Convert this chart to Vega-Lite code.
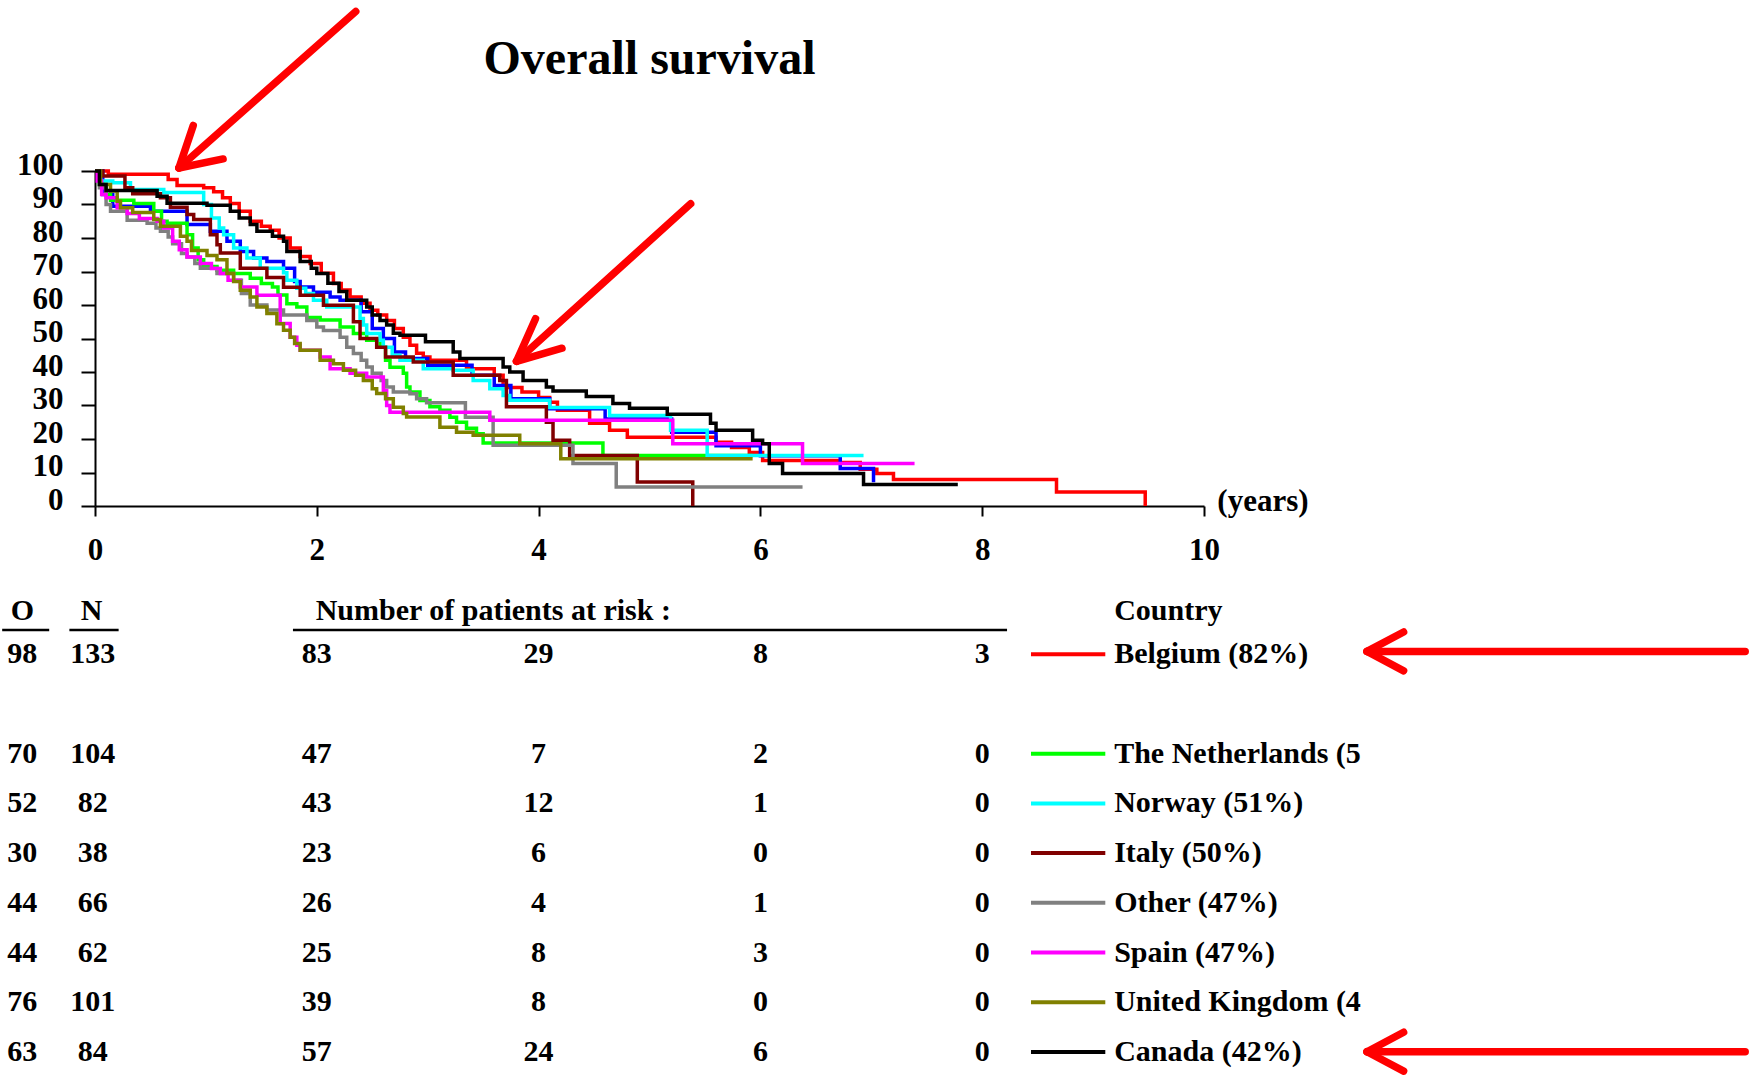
{
"$schema": "https://vega.github.io/schema/vega-lite/v6.json",
"width": 1109, "height": 335,
"padding": {"left": 95, "top": 171, "right": 550, "bottom": 572},
"autosize": "none",
"background": "white",
"config": {"view": {"stroke": null}, "font": "Liberation Serif",
  "text": {"font": "Liberation Serif", "fontWeight": "bold", "fontSize": 30, "color": "black", "baseline": "middle"},
  "axis": {"labelFont": "Liberation Serif", "labelFontWeight": "bold", "labelFontSize": 31, "labelColor": "black", "domainColor": "black", "domainWidth": 2, "tickColor": "black", "tickWidth": 2, "grid": false, "labelOverlap": false, "labelFlush": false}},
"datasets": {
"km": [
{"country":"Belgium","t":0,"s":100},{"country":"Belgium","t":0.12,"s":99},{"country":"Belgium","t":0.66,"s":97.5},{"country":"Belgium","t":0.74,"s":95.7},{"country":"Belgium","t":0.98,"s":95},{"country":"Belgium","t":1.07,"s":93.8},{"country":"Belgium","t":1.15,"s":92},{"country":"Belgium","t":1.22,"s":90.3},{"country":"Belgium","t":1.3,"s":88},{"country":"Belgium","t":1.4,"s":85},{"country":"Belgium","t":1.5,"s":83.5},{"country":"Belgium","t":1.58,"s":82.3},{"country":"Belgium","t":1.66,"s":80},{"country":"Belgium","t":1.76,"s":77},{"country":"Belgium","t":1.85,"s":74.5},{"country":"Belgium","t":1.94,"s":72.4},{"country":"Belgium","t":2.04,"s":69.5},{"country":"Belgium","t":2.15,"s":66.4},{"country":"Belgium","t":2.22,"s":64.5},{"country":"Belgium","t":2.3,"s":62.4},{"country":"Belgium","t":2.4,"s":60.5},{"country":"Belgium","t":2.48,"s":58.4},{"country":"Belgium","t":2.55,"s":57},{"country":"Belgium","t":2.63,"s":55.4},{"country":"Belgium","t":2.7,"s":53},{"country":"Belgium","t":2.78,"s":50.4},{"country":"Belgium","t":2.84,"s":48},{"country":"Belgium","t":2.9,"s":45.6},{"country":"Belgium","t":2.96,"s":44.5},{"country":"Belgium","t":3.02,"s":43.5},{"country":"Belgium","t":3.35,"s":41},{"country":"Belgium","t":3.6,"s":39},{"country":"Belgium","t":3.68,"s":35.4},{"country":"Belgium","t":3.85,"s":34},{"country":"Belgium","t":4.0,"s":32.4},{"country":"Belgium","t":4.1,"s":31},{"country":"Belgium","t":4.17,"s":28.6},{"country":"Belgium","t":4.46,"s":24.7},{"country":"Belgium","t":4.64,"s":22.6},{"country":"Belgium","t":4.8,"s":20.5},{"country":"Belgium","t":5.6,"s":19},{"country":"Belgium","t":5.74,"s":17.5},{"country":"Belgium","t":5.9,"s":16},{"country":"Belgium","t":6.02,"s":13.6},{"country":"Belgium","t":6.72,"s":13},{"country":"Belgium","t":6.9,"s":11},{"country":"Belgium","t":7.05,"s":9.7},{"country":"Belgium","t":7.2,"s":7.9},{"country":"Belgium","t":8.67,"s":4.2},{"country":"Belgium","t":9.47,"s":0},
{"country":"Unnamed","t":0,"s":100},{"country":"Unnamed","t":0.07,"s":93},{"country":"Unnamed","t":0.16,"s":89.5},{"country":"Unnamed","t":0.5,"s":88},{"country":"Unnamed","t":0.83,"s":84},{"country":"Unnamed","t":1.04,"s":82},{"country":"Unnamed","t":1.19,"s":79},{"country":"Unnamed","t":1.31,"s":76},{"country":"Unnamed","t":1.43,"s":74},{"country":"Unnamed","t":1.55,"s":73},{"country":"Unnamed","t":1.7,"s":71},{"country":"Unnamed","t":1.8,"s":67},{"country":"Unnamed","t":1.85,"s":65.4},{"country":"Unnamed","t":1.97,"s":63.8},{"country":"Unnamed","t":2.12,"s":62.4},{"country":"Unnamed","t":2.21,"s":61.4},{"country":"Unnamed","t":2.4,"s":58},{"country":"Unnamed","t":2.5,"s":53},{"country":"Unnamed","t":2.6,"s":50},{"country":"Unnamed","t":2.7,"s":46},{"country":"Unnamed","t":2.8,"s":44},{"country":"Unnamed","t":3.0,"s":42},{"country":"Unnamed","t":3.4,"s":39},{"country":"Unnamed","t":3.6,"s":36},{"country":"Unnamed","t":3.75,"s":32},{"country":"Unnamed","t":4.1,"s":29},{"country":"Unnamed","t":4.6,"s":26},{"country":"Unnamed","t":5.2,"s":22},{"country":"Unnamed","t":5.6,"s":18},{"country":"Unnamed","t":6.0,"s":15},{"country":"Unnamed","t":6.72,"s":11.2},{"country":"Unnamed","t":7.02,"s":7.1},
{"country":"The Netherlands","t":0,"s":100},{"country":"The Netherlands","t":0.04,"s":96},{"country":"The Netherlands","t":0.1,"s":93},{"country":"The Netherlands","t":0.14,"s":91.3},{"country":"The Netherlands","t":0.35,"s":90.3},{"country":"The Netherlands","t":0.53,"s":88},{"country":"The Netherlands","t":0.6,"s":85},{"country":"The Netherlands","t":0.65,"s":84.4},{"country":"The Netherlands","t":0.83,"s":81},{"country":"The Netherlands","t":0.88,"s":77},{"country":"The Netherlands","t":0.93,"s":73.5},{"country":"The Netherlands","t":0.98,"s":71.5},{"country":"The Netherlands","t":1.1,"s":70.4},{"country":"The Netherlands","t":1.25,"s":69.4},{"country":"The Netherlands","t":1.4,"s":68},{"country":"The Netherlands","t":1.5,"s":66.4},{"country":"The Netherlands","t":1.6,"s":65.4},{"country":"The Netherlands","t":1.65,"s":63},{"country":"The Netherlands","t":1.73,"s":60.4},{"country":"The Netherlands","t":1.82,"s":59.4},{"country":"The Netherlands","t":1.91,"s":56.3},{"country":"The Netherlands","t":2.03,"s":55.5},{"country":"The Netherlands","t":2.21,"s":53.4},{"country":"The Netherlands","t":2.33,"s":51.5},{"country":"The Netherlands","t":2.45,"s":49.5},{"country":"The Netherlands","t":2.57,"s":47.4},{"country":"The Netherlands","t":2.62,"s":43.5},{"country":"The Netherlands","t":2.66,"s":41.4},{"country":"The Netherlands","t":2.78,"s":39.6},{"country":"The Netherlands","t":2.81,"s":35.5},{"country":"The Netherlands","t":2.84,"s":34},{"country":"The Netherlands","t":2.93,"s":31.5},{"country":"The Netherlands","t":3.02,"s":29.6},{"country":"The Netherlands","t":3.11,"s":28.6},{"country":"The Netherlands","t":3.2,"s":26.5},{"country":"The Netherlands","t":3.26,"s":25},{"country":"The Netherlands","t":3.35,"s":23.2},{"country":"The Netherlands","t":3.44,"s":21.6},{"country":"The Netherlands","t":3.5,"s":18.8},{"country":"The Netherlands","t":4.58,"s":15.1},{"country":"The Netherlands","t":5.93,"s":15.1},
{"country":"Norway","t":0,"s":100},{"country":"Norway","t":0.05,"s":97},{"country":"Norway","t":0.16,"s":96.5},{"country":"Norway","t":0.32,"s":94.5},{"country":"Norway","t":0.62,"s":93.6},{"country":"Norway","t":0.98,"s":90},{"country":"Norway","t":1.05,"s":86},{"country":"Norway","t":1.12,"s":83},{"country":"Norway","t":1.16,"s":81},{"country":"Norway","t":1.25,"s":77},{"country":"Norway","t":1.37,"s":74},{"country":"Norway","t":1.49,"s":71},{"country":"Norway","t":1.7,"s":69.6},{"country":"Norway","t":1.73,"s":67.4},{"country":"Norway","t":1.82,"s":65},{"country":"Norway","t":1.9,"s":63.4},{"country":"Norway","t":1.97,"s":61.4},{"country":"Norway","t":2.09,"s":59.4},{"country":"Norway","t":2.39,"s":56},{"country":"Norway","t":2.42,"s":54},{"country":"Norway","t":2.45,"s":51.5},{"country":"Norway","t":2.57,"s":49.5},{"country":"Norway","t":2.6,"s":47.4},{"country":"Norway","t":2.68,"s":45},{"country":"Norway","t":2.75,"s":43.5},{"country":"Norway","t":2.96,"s":41},{"country":"Norway","t":3.23,"s":40.5},{"country":"Norway","t":3.41,"s":37.5},{"country":"Norway","t":3.56,"s":35},{"country":"Norway","t":3.68,"s":33},{"country":"Norway","t":3.74,"s":31.6},{"country":"Norway","t":4.1,"s":29.4},{"country":"Norway","t":4.64,"s":27},{"country":"Norway","t":5.19,"s":22.6},{"country":"Norway","t":5.52,"s":15.1},{"country":"Norway","t":6.93,"s":15.1},
{"country":"Italy","t":0,"s":100},{"country":"Italy","t":0.07,"s":98.5},{"country":"Italy","t":0.27,"s":95},{"country":"Italy","t":0.34,"s":93.2},{"country":"Italy","t":0.59,"s":92},{"country":"Italy","t":0.68,"s":89.2},{"country":"Italy","t":0.83,"s":87},{"country":"Italy","t":0.89,"s":85.5},{"country":"Italy","t":1.04,"s":81},{"country":"Italy","t":1.1,"s":78},{"country":"Italy","t":1.13,"s":75.5},{"country":"Italy","t":1.31,"s":71},{"country":"Italy","t":1.55,"s":68.2},{"country":"Italy","t":1.7,"s":65.3},{"country":"Italy","t":1.85,"s":62.9},{"country":"Italy","t":2.06,"s":59.9},{"country":"Italy","t":2.33,"s":55},{"country":"Italy","t":2.39,"s":50},{"country":"Italy","t":2.54,"s":47.4},{"country":"Italy","t":2.62,"s":44.5},{"country":"Italy","t":2.87,"s":43},{"country":"Italy","t":3.23,"s":39},{"country":"Italy","t":3.65,"s":37.5},{"country":"Italy","t":3.71,"s":29.6},{"country":"Italy","t":4.07,"s":25},{"country":"Italy","t":4.13,"s":19.6},{"country":"Italy","t":4.28,"s":15.1},{"country":"Italy","t":4.89,"s":7.2},{"country":"Italy","t":5.39,"s":0},
{"country":"Other","t":0,"s":100},{"country":"Other","t":0.04,"s":95},{"country":"Other","t":0.1,"s":90},{"country":"Other","t":0.14,"s":88},{"country":"Other","t":0.29,"s":85.3},{"country":"Other","t":0.47,"s":84.4},{"country":"Other","t":0.55,"s":83},{"country":"Other","t":0.59,"s":82},{"country":"Other","t":0.66,"s":80.3},{"country":"Other","t":0.7,"s":78.3},{"country":"Other","t":0.78,"s":75.4},{"country":"Other","t":0.83,"s":74.3},{"country":"Other","t":0.9,"s":72.4},{"country":"Other","t":0.95,"s":71},{"country":"Other","t":1.1,"s":69.4},{"country":"Other","t":1.25,"s":67.4},{"country":"Other","t":1.32,"s":63.4},{"country":"Other","t":1.4,"s":60},{"country":"Other","t":1.55,"s":58.5},{"country":"Other","t":1.7,"s":57},{"country":"Other","t":1.91,"s":55.4},{"country":"Other","t":2.0,"s":53.4},{"country":"Other","t":2.06,"s":52.4},{"country":"Other","t":2.21,"s":50.4},{"country":"Other","t":2.27,"s":47.4},{"country":"Other","t":2.33,"s":45.5},{"country":"Other","t":2.4,"s":43.5},{"country":"Other","t":2.45,"s":41.5},{"country":"Other","t":2.5,"s":39.6},{"country":"Other","t":2.58,"s":37.5},{"country":"Other","t":2.63,"s":35.5},{"country":"Other","t":2.69,"s":34},{"country":"Other","t":2.84,"s":33.5},{"country":"Other","t":2.9,"s":32},{"country":"Other","t":2.99,"s":30.8},{"country":"Other","t":3.34,"s":26.5},{"country":"Other","t":3.59,"s":18.1},{"country":"Other","t":4.31,"s":12.7},{"country":"Other","t":4.7,"s":5.7},{"country":"Other","t":6.38,"s":5.7},
{"country":"Spain","t":0,"s":100},{"country":"Spain","t":0.02,"s":97},{"country":"Spain","t":0.06,"s":93},{"country":"Spain","t":0.1,"s":92},{"country":"Spain","t":0.2,"s":89},{"country":"Spain","t":0.29,"s":87.3},{"country":"Spain","t":0.4,"s":85.8},{"country":"Spain","t":0.56,"s":85},{"country":"Spain","t":0.62,"s":83},{"country":"Spain","t":0.7,"s":79},{"country":"Spain","t":0.76,"s":76.5},{"country":"Spain","t":0.83,"s":74.3},{"country":"Spain","t":0.95,"s":72.4},{"country":"Spain","t":1.05,"s":70.9},{"country":"Spain","t":1.13,"s":69.4},{"country":"Spain","t":1.2,"s":67.4},{"country":"Spain","t":1.31,"s":65.4},{"country":"Spain","t":1.46,"s":62.9},{"country":"Spain","t":1.67,"s":54.5},{"country":"Spain","t":1.76,"s":50.4},{"country":"Spain","t":1.82,"s":48},{"country":"Spain","t":1.85,"s":46.5},{"country":"Spain","t":2.03,"s":44.5},{"country":"Spain","t":2.12,"s":41},{"country":"Spain","t":2.3,"s":39.6},{"country":"Spain","t":2.45,"s":38.5},{"country":"Spain","t":2.6,"s":34.5},{"country":"Spain","t":2.63,"s":30},{"country":"Spain","t":2.66,"s":28},{"country":"Spain","t":3.56,"s":25.6},{"country":"Spain","t":5.21,"s":18.6},{"country":"Spain","t":6.38,"s":12.7},{"country":"Spain","t":7.39,"s":12.7},
{"country":"United Kingdom","t":0,"s":100},{"country":"United Kingdom","t":0.05,"s":96},{"country":"United Kingdom","t":0.14,"s":94},{"country":"United Kingdom","t":0.2,"s":91},{"country":"United Kingdom","t":0.23,"s":89},{"country":"United Kingdom","t":0.34,"s":87.6},{"country":"United Kingdom","t":0.53,"s":85.5},{"country":"United Kingdom","t":0.59,"s":83.5},{"country":"United Kingdom","t":0.77,"s":80.5},{"country":"United Kingdom","t":0.83,"s":79},{"country":"United Kingdom","t":0.87,"s":76.3},{"country":"United Kingdom","t":1.01,"s":74.8},{"country":"United Kingdom","t":1.1,"s":73.5},{"country":"United Kingdom","t":1.19,"s":69.4},{"country":"United Kingdom","t":1.25,"s":67},{"country":"United Kingdom","t":1.31,"s":64.4},{"country":"United Kingdom","t":1.4,"s":62.4},{"country":"United Kingdom","t":1.46,"s":59.4},{"country":"United Kingdom","t":1.55,"s":57.5},{"country":"United Kingdom","t":1.64,"s":54.4},{"country":"United Kingdom","t":1.7,"s":52.5},{"country":"United Kingdom","t":1.76,"s":50.4},{"country":"United Kingdom","t":1.8,"s":48.5},{"country":"United Kingdom","t":1.85,"s":46.5},{"country":"United Kingdom","t":2.03,"s":43.5},{"country":"United Kingdom","t":2.15,"s":42.5},{"country":"United Kingdom","t":2.24,"s":40.5},{"country":"United Kingdom","t":2.35,"s":39},{"country":"United Kingdom","t":2.42,"s":37.5},{"country":"United Kingdom","t":2.5,"s":35},{"country":"United Kingdom","t":2.54,"s":33.6},{"country":"United Kingdom","t":2.62,"s":32},{"country":"United Kingdom","t":2.69,"s":29.5},{"country":"United Kingdom","t":2.78,"s":27.6},{"country":"United Kingdom","t":2.81,"s":26.6},{"country":"United Kingdom","t":3.11,"s":23.5},{"country":"United Kingdom","t":3.26,"s":22},{"country":"United Kingdom","t":3.41,"s":21.1},{"country":"United Kingdom","t":3.83,"s":18.6},{"country":"United Kingdom","t":4.2,"s":14.1},{"country":"United Kingdom","t":5.93,"s":14.1},
{"country":"Canada","t":0,"s":100},{"country":"Canada","t":0.04,"s":96},{"country":"Canada","t":0.1,"s":94.2},{"country":"Canada","t":0.56,"s":92.5},{"country":"Canada","t":0.65,"s":90.4},{"country":"Canada","t":1.01,"s":89.8},{"country":"Canada","t":1.22,"s":88},{"country":"Canada","t":1.3,"s":86},{"country":"Canada","t":1.4,"s":84},{"country":"Canada","t":1.46,"s":82},{"country":"Canada","t":1.6,"s":80.5},{"country":"Canada","t":1.7,"s":79},{"country":"Canada","t":1.73,"s":76},{"country":"Canada","t":1.85,"s":73},{"country":"Canada","t":1.95,"s":71},{"country":"Canada","t":2.0,"s":69.4},{"country":"Canada","t":2.1,"s":66.5},{"country":"Canada","t":2.2,"s":64},{"country":"Canada","t":2.27,"s":61.4},{"country":"Canada","t":2.45,"s":59.4},{"country":"Canada","t":2.5,"s":57},{"country":"Canada","t":2.57,"s":55.4},{"country":"Canada","t":2.63,"s":54},{"country":"Canada","t":2.69,"s":51.6},{"country":"Canada","t":2.75,"s":51},{"country":"Canada","t":2.98,"s":49},{"country":"Canada","t":3.23,"s":46},{"country":"Canada","t":3.29,"s":44},{"country":"Canada","t":3.68,"s":41.5},{"country":"Canada","t":3.74,"s":40},{"country":"Canada","t":3.86,"s":37.5},{"country":"Canada","t":4.07,"s":35.5},{"country":"Canada","t":4.13,"s":34.3},{"country":"Canada","t":4.43,"s":32.7},{"country":"Canada","t":4.67,"s":30.6},{"country":"Canada","t":4.82,"s":29.2},{"country":"Canada","t":5.16,"s":27.4},{"country":"Canada","t":5.55,"s":24.7},{"country":"Canada","t":5.6,"s":22.6},{"country":"Canada","t":5.93,"s":19.6},{"country":"Canada","t":6.02,"s":18.6},{"country":"Canada","t":6.08,"s":12.7},{"country":"Canada","t":6.2,"s":9.7},{"country":"Canada","t":6.93,"s":6.4},{"country":"Canada","t":7.78,"s":6.4}
],
"arrows": [
{"x":2.351,"y":147.6,"x2":0.757,"y2":100.9},{"x":0.757,"y":100.9,"x2":0.886,"y2":113.6},{"x":0.757,"y":100.9,"x2":1.155,"y2":103.6},
{"x":5.371,"y":90.2,"x2":3.801,"y2":43.2},{"x":3.801,"y":43.2,"x2":3.972,"y2":55.9},{"x":3.801,"y":43.2,"x2":4.211,"y2":47.1},
{"x":14.88,"y":-43.4,"x2":11.47,"y2":-43.4},{"x":11.47,"y":-43.4,"x2":11.8,"y2":-37.6},{"x":11.47,"y":-43.4,"x2":11.8,"y2":-49.2},
{"x":14.88,"y":-162.9,"x2":11.47,"y2":-162.9},{"x":11.47,"y":-162.9,"x2":11.8,"y2":-157.1},{"x":11.47,"y":-162.9,"x2":11.8,"y2":-168.7}
],
"table": [
{"country":"Belgium","label":"Belgium (82%)","O":98,"N":133},
{"country":"The Netherlands","label":"The Netherlands (5","O":70,"N":104},
{"country":"Norway","label":"Norway (51%)","O":52,"N":82},
{"country":"Italy","label":"Italy (50%)","O":30,"N":38},
{"country":"Other","label":"Other (47%)","O":44,"N":66},
{"country":"Spain","label":"Spain (47%)","O":44,"N":62},
{"country":"United Kingdom","label":"United Kingdom (4","O":76,"N":101},
{"country":"Canada","label":"Canada (42%)","O":63,"N":84}
],
"risk": [
{"country":"Belgium","year":2,"n":83},{"country":"Belgium","year":4,"n":29},{"country":"Belgium","year":6,"n":8},{"country":"Belgium","year":8,"n":3},
{"country":"The Netherlands","year":2,"n":47},{"country":"The Netherlands","year":4,"n":7},{"country":"The Netherlands","year":6,"n":2},{"country":"The Netherlands","year":8,"n":0},
{"country":"Norway","year":2,"n":43},{"country":"Norway","year":4,"n":12},{"country":"Norway","year":6,"n":1},{"country":"Norway","year":8,"n":0},
{"country":"Italy","year":2,"n":23},{"country":"Italy","year":4,"n":6},{"country":"Italy","year":6,"n":0},{"country":"Italy","year":8,"n":0},
{"country":"Other","year":2,"n":26},{"country":"Other","year":4,"n":4},{"country":"Other","year":6,"n":1},{"country":"Other","year":8,"n":0},
{"country":"Spain","year":2,"n":25},{"country":"Spain","year":4,"n":8},{"country":"Spain","year":6,"n":3},{"country":"Spain","year":8,"n":0},
{"country":"United Kingdom","year":2,"n":39},{"country":"United Kingdom","year":4,"n":8},{"country":"United Kingdom","year":6,"n":0},{"country":"United Kingdom","year":8,"n":0},
{"country":"Canada","year":2,"n":57},{"country":"Canada","year":4,"n":24},{"country":"Canada","year":6,"n":6},{"country":"Canada","year":8,"n":0}
]
},
"resolve": {"scale": {"x": "independent", "y": "independent"}},
"layer": [
  {"data": {"name": "km"},
   "mark": {"type": "line", "interpolate": "step-after", "strokeWidth": 3.5},
   "encoding": {
     "x": {"field": "t", "type": "quantitative", "scale": {"domain": [0,10], "nice": false, "zero": false},
           "axis": {"values": [0,2,4,6,8,10], "orient": "bottom", "tickSize": 10, "labelPadding": 19, "format": "d", "title": null}},
     "y": {"field": "s", "type": "quantitative", "scale": {"domain": [0,100], "nice": false, "zero": false},
           "axis": {"values": [0,10,20,30,40,50,60,70,80,90,100], "orient": "left", "tickSize": 14, "labelPadding": 18, "labelOffset": -6, "title": null, "format": "d"}},
     "color": {"field": "country", "type": "nominal", "legend": null,
               "scale": {"domain": ["Belgium","Unnamed","The Netherlands","Norway","Italy","Other","Spain","United Kingdom","Canada"],
                         "range": ["#ff0000","#0000ff","#00ff00","#00ffff","#800000","#808080","#ff00ff","#808000","#000000"]}}
   }},
  {"data": {"name": "arrows"},
   "mark": {"type": "rule", "color": "#ff0000", "strokeWidth": 7.5, "strokeCap": "round"},
   "encoding": {
     "x": {"field": "x", "type": "quantitative", "scale": {"domain": [0,10], "nice": false, "zero": false}, "axis": null},
     "x2": {"field": "x2"},
     "y": {"field": "y", "type": "quantitative", "scale": {"domain": [0,100], "nice": false, "zero": false}, "axis": null},
     "y2": {"field": "y2"}
   }},
  {"data": {"values": [{"label": "Overall survival"}]},
   "mark": {"type": "text", "fontSize": 48, "align": "center", "baseline": "middle"},
   "encoding": {
     "x": {"datum": 5, "type": "quantitative", "scale": {"domain": [0,10], "nice": false, "zero": false}, "axis": null},
     "y": {"datum": 133, "type": "quantitative", "scale": {"domain": [0,100], "nice": false, "zero": false}, "axis": null},
     "text": {"field": "label"}
   }},
  {"data": {"values": [{"label": "(years)"}]},
   "mark": {"type": "text", "fontSize": 31, "align": "left", "baseline": "middle"},
   "encoding": {
     "x": {"datum": 10.12, "type": "quantitative", "scale": {"domain": [0,10], "nice": false, "zero": false}, "axis": null},
     "y": {"datum": 1.2, "type": "quantitative", "scale": {"domain": [0,100], "nice": false, "zero": false}, "axis": null},
     "text": {"field": "label"}
   }},
  {"data": {"values": [{"label": "O"}]},
   "mark": {"type": "text", "align": "center", "yOffset": 6},
   "encoding": {
     "x": {"datum": -0.655, "type": "quantitative", "scale": {"domain": [0,10], "nice": false, "zero": false}, "axis": null},
     "y": {"datum": "header", "type": "nominal", "scale": {"type": "point", "domain": ["header","Belgium","Unnamed","The Netherlands","Norway","Italy","Other","Spain","United Kingdom","Canada"], "range": [433.5,881], "padding": 0}, "axis": null},
     "text": {"field": "label"}
   }},
  {"data": {"values": [{"label": "N"}]},
   "mark": {"type": "text", "align": "center", "yOffset": 6},
   "encoding": {
     "x": {"datum": -0.03, "type": "quantitative", "scale": {"domain": [0,10], "nice": false, "zero": false}, "axis": null},
     "y": {"datum": "header", "type": "nominal", "scale": {"type": "point", "domain": ["header","Belgium","Unnamed","The Netherlands","Norway","Italy","Other","Spain","United Kingdom","Canada"], "range": [433.5,881], "padding": 0}, "axis": null},
     "text": {"field": "label"}
   }},
  {"data": {"values": [{"label": "Number of patients at risk :"}]},
   "mark": {"type": "text", "align": "left", "yOffset": 6},
   "encoding": {
     "x": {"datum": 1.99, "type": "quantitative", "scale": {"domain": [0,10], "nice": false, "zero": false}, "axis": null},
     "y": {"datum": "header", "type": "nominal", "scale": {"type": "point", "domain": ["header","Belgium","Unnamed","The Netherlands","Norway","Italy","Other","Spain","United Kingdom","Canada"], "range": [433.5,881], "padding": 0}, "axis": null},
     "text": {"field": "label"}
   }},
  {"data": {"values": [{"label": "Country"}]},
   "mark": {"type": "text", "align": "left", "yOffset": 6},
   "encoding": {
     "x": {"datum": 9.19, "type": "quantitative", "scale": {"domain": [0,10], "nice": false, "zero": false}, "axis": null},
     "y": {"datum": "header", "type": "nominal", "scale": {"type": "point", "domain": ["header","Belgium","Unnamed","The Netherlands","Norway","Italy","Other","Spain","United Kingdom","Canada"], "range": [433.5,881], "padding": 0}, "axis": null},
     "text": {"field": "label"}
   }},
  {"data": {"values": [{"col": "O", "from": -0.837, "to": -0.413}, {"col": "N", "from": -0.231, "to": 0.213}, {"col": "risk", "from": 1.785, "to": 8.224}]},
   "mark": {"type": "rule", "color": "black", "strokeWidth": 2.5, "yOffset": 25.5},
   "encoding": {
     "x": {"field": "from", "type": "quantitative", "scale": {"domain": [0,10], "nice": false, "zero": false}, "axis": null},
     "x2": {"field": "to"},
     "y": {"datum": "header", "type": "nominal", "scale": {"type": "point", "domain": ["header","Belgium","Unnamed","The Netherlands","Norway","Italy","Other","Spain","United Kingdom","Canada"], "range": [433.5,881], "padding": 0}, "axis": null}
   }},
  {"data": {"name": "table"},
   "mark": {"type": "text", "align": "center"},
   "encoding": {
     "x": {"datum": -0.655, "type": "quantitative", "scale": {"domain": [0,10], "nice": false, "zero": false}, "axis": null},
     "y": {"field": "country", "type": "nominal", "scale": {"type": "point", "domain": ["header","Belgium","Unnamed","The Netherlands","Norway","Italy","Other","Spain","United Kingdom","Canada"], "range": [433.5,881], "padding": 0}, "axis": null},
     "text": {"field": "O"}
   }},
  {"data": {"name": "table"},
   "mark": {"type": "text", "align": "center"},
   "encoding": {
     "x": {"datum": -0.02, "type": "quantitative", "scale": {"domain": [0,10], "nice": false, "zero": false}, "axis": null},
     "y": {"field": "country", "type": "nominal", "scale": {"type": "point", "domain": ["header","Belgium","Unnamed","The Netherlands","Norway","Italy","Other","Spain","United Kingdom","Canada"], "range": [433.5,881], "padding": 0}, "axis": null},
     "text": {"field": "N"}
   }},
  {"data": {"name": "risk"},
   "mark": {"type": "text", "align": "center"},
   "encoding": {
     "x": {"field": "year", "type": "quantitative", "scale": {"domain": [0,10], "nice": false, "zero": false}, "axis": null},
     "y": {"field": "country", "type": "nominal", "scale": {"type": "point", "domain": ["header","Belgium","Unnamed","The Netherlands","Norway","Italy","Other","Spain","United Kingdom","Canada"], "range": [433.5,881], "padding": 0}, "axis": null},
     "text": {"field": "n"}
   }},
  {"data": {"name": "table"},
   "mark": {"type": "rule", "strokeWidth": 4},
   "encoding": {
     "x": {"datum": 8.44, "type": "quantitative", "scale": {"domain": [0,10], "nice": false, "zero": false}, "axis": null},
     "x2": {"datum": 9.11},
     "y": {"field": "country", "type": "nominal", "scale": {"type": "point", "domain": ["header","Belgium","Unnamed","The Netherlands","Norway","Italy","Other","Spain","United Kingdom","Canada"], "range": [433.5,881], "padding": 0}, "axis": null},
     "color": {"field": "country", "type": "nominal", "legend": null,
               "scale": {"domain": ["Belgium","Unnamed","The Netherlands","Norway","Italy","Other","Spain","United Kingdom","Canada"],
                         "range": ["#ff0000","#0000ff","#00ff00","#00ffff","#800000","#808080","#ff00ff","#808000","#000000"]}}
   }},
  {"data": {"name": "table"},
   "mark": {"type": "text", "align": "left"},
   "encoding": {
     "x": {"datum": 9.19, "type": "quantitative", "scale": {"domain": [0,10], "nice": false, "zero": false}, "axis": null},
     "y": {"field": "country", "type": "nominal", "scale": {"type": "point", "domain": ["header","Belgium","Unnamed","The Netherlands","Norway","Italy","Other","Spain","United Kingdom","Canada"], "range": [433.5,881], "padding": 0}, "axis": null},
     "text": {"field": "label"}
   }}
]
}
